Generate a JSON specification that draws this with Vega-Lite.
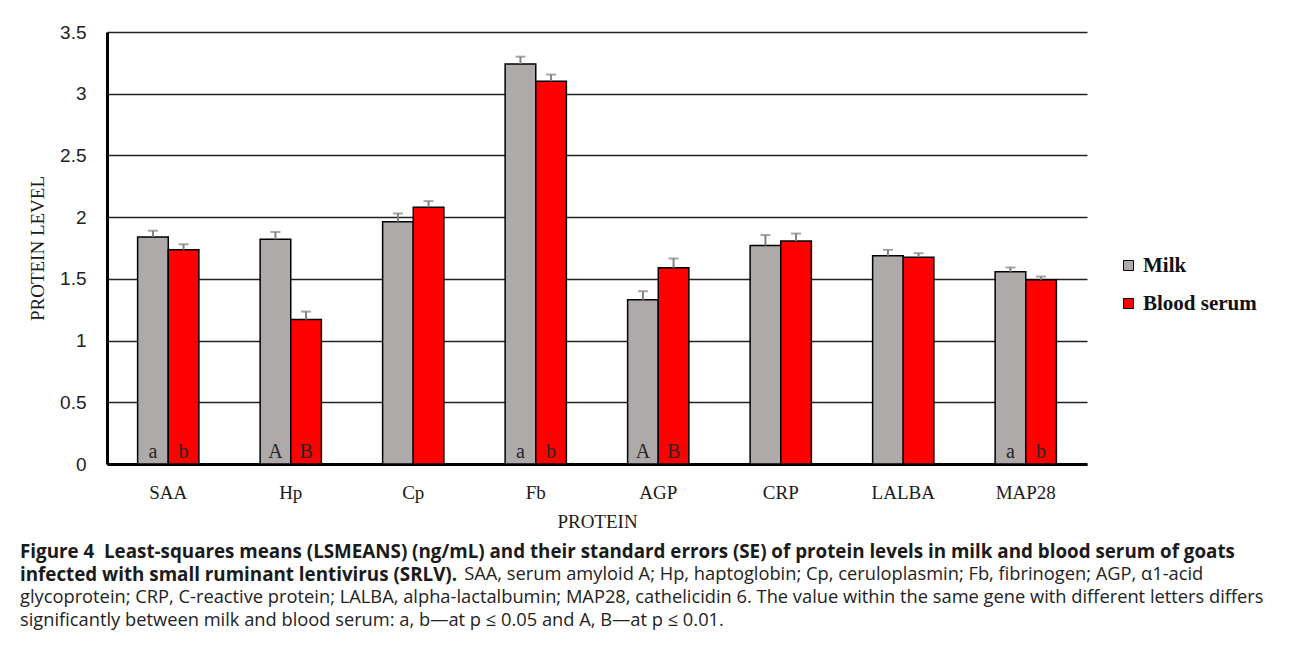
{
  "$schema": "https://vega.github.io/schema/vega-lite/v6.json",
  "autosize": {"type": "none"},
  "padding": {"left": 107, "top": 32, "right": 203, "bottom": 188},
  "width": 980,
  "height": 432,
  "background": "white",
  "title": {
    "text": ["Figure 4\u00a0 Least-squares means (LSMEANS) (ng/mL) and their standard errors (SE) of protein levels in milk and blood serum of goats", "infected with small ruminant lentivirus (SRLV)."],
    "subtitle": ["\u200b\u2003\u2003\u2003\u2003\u2003\u2003\u2003\u2003\u2003\u2003\u2003\u2003\u2003\u2003\u2003\u2003\u2003\u2003\u2003\u2003\u2003\u2003\u2003\u00a0\u00a0\u00a0\u00a0\u00a0SAA, serum amyloid A; Hp, haptoglobin; Cp, ceruloplasmin; Fb, fibrinogen; AGP, \u03b11-acid", "glycoprotein; CRP, C-reactive protein; LALBA, alpha-lactalbumin; MAP28, cathelicidin 6. The value within the same gene with different letters differs", "significantly between milk and blood serum: a, b\u2014at p \u2264 0.05 and A, B\u2014at p \u2264 0.01."],
    "orient": "bottom",
    "anchor": "start",
    "frame": "group",
    "dx": -87,
    "offset": 12,
    "font": "Open Sans",
    "fontSize": 18.8,
    "fontWeight": "bold",
    "lineHeight": 23,
    "color": "#1a1a1a",
    "subtitleFont": "Open Sans",
    "subtitleFontSize": 18.3,
    "subtitleFontWeight": "normal",
    "subtitleLineHeight": 23,
    "subtitleColor": "#222222",
    "subtitlePadding": -18.8
  },
  "data": {
    "values": [
      {"protein": "SAA", "group": "Milk", "value": 1.84, "upper": 1.89, "letter": "a"},
      {"protein": "SAA", "group": "Blood serum", "value": 1.735, "upper": 1.78, "letter": "b"},
      {"protein": "Hp", "group": "Milk", "value": 1.82, "upper": 1.88, "letter": "A"},
      {"protein": "Hp", "group": "Blood serum", "value": 1.17, "upper": 1.235, "letter": "B"},
      {"protein": "Cp", "group": "Milk", "value": 1.963, "upper": 2.03, "letter": ""},
      {"protein": "Cp", "group": "Blood serum", "value": 2.08, "upper": 2.13, "letter": ""},
      {"protein": "Fb", "group": "Milk", "value": 3.24, "upper": 3.3, "letter": "a"},
      {"protein": "Fb", "group": "Blood serum", "value": 3.1, "upper": 3.155, "letter": "b"},
      {"protein": "AGP", "group": "Milk", "value": 1.33, "upper": 1.4, "letter": "A"},
      {"protein": "AGP", "group": "Blood serum", "value": 1.59, "upper": 1.665, "letter": "B"},
      {"protein": "CRP", "group": "Milk", "value": 1.77, "upper": 1.855, "letter": ""},
      {"protein": "CRP", "group": "Blood serum", "value": 1.806, "upper": 1.867, "letter": ""},
      {"protein": "LALBA", "group": "Milk", "value": 1.687, "upper": 1.735, "letter": ""},
      {"protein": "LALBA", "group": "Blood serum", "value": 1.676, "upper": 1.708, "letter": ""},
      {"protein": "MAP28", "group": "Milk", "value": 1.557, "upper": 1.592, "letter": "a"},
      {"protein": "MAP28", "group": "Blood serum", "value": 1.492, "upper": 1.519, "letter": "b"}
    ]
  },
  "encoding": {
    "x": {
      "field": "protein",
      "type": "nominal",
      "sort": ["SAA", "Hp", "Cp", "Fb", "AGP", "CRP", "LALBA", "MAP28"],
      "scale": {"paddingInner": 0.5, "paddingOuter": 0.25},
      "title": "PROTEIN",
      "axis": {
        "labelAngle": 0,
        "domainColor": "#000000",
        "domainWidth": 3,
        "ticks": false,
        "tickSize": 0,
        "labelFont": "Liberation Serif",
        "labelFontSize": 19,
        "labelColor": "#1a1a1a",
        "labelPadding": 19,
        "titleFont": "Liberation Serif",
        "titleFontSize": 19,
        "titleFontWeight": "normal",
        "titleColor": "#1a1a1a",
        "titlePadding": 10
      }
    },
    "xOffset": {"field": "group", "type": "nominal", "sort": ["Milk", "Blood serum"]}
  },
  "layer": [
    {
      "mark": {"type": "bar", "stroke": "#000000", "strokeWidth": 1.5},
      "encoding": {
        "y": {
          "field": "value",
          "type": "quantitative",
          "scale": {"domain": [0, 3.5]},
          "title": "PROTEIN LEVEL",
          "axis": {
            "values": [0, 0.5, 1, 1.5, 2, 2.5, 3, 3.5],
            "format": "~g",
            "grid": true,
            "gridColor": "#222222",
            "gridWidth": 1.3,
            "domainColor": "#000000",
            "domainWidth": 3,
            "ticks": false,
            "tickSize": 0,
            "labelFont": "Liberation Sans",
            "labelFontSize": 19,
            "labelColor": "#222222",
            "labelPadding": 21,
            "titleFont": "Liberation Serif",
            "titleFontSize": 19,
            "titleFontWeight": "normal",
            "titleColor": "#1a1a1a",
            "titlePadding": 12
          }
        },
        "color": {
          "field": "group",
          "type": "nominal",
          "scale": {"domain": ["Milk", "Blood serum"], "range": ["#AEAAAA", "#FF0000"]},
          "legend": {
            "orient": "none",
            "legendX": 1011,
            "legendY": 223,
            "title": null,
            "padding": 0,
            "symbolType": "square",
            "symbolSize": 100,
            "symbolStrokeColor": "#000000",
            "symbolStrokeWidth": 1,
            "labelFont": "Liberation Serif",
            "labelFontSize": 21,
            "labelFontWeight": "bold",
            "labelColor": "#111111",
            "labelOffset": 4,
            "rowPadding": 16
          }
        }
      }
    },
    {
      "mark": {"type": "rule", "color": "#808080", "strokeWidth": 2},
      "encoding": {
        "y": {"field": "value", "type": "quantitative"},
        "y2": {"field": "upper"}
      }
    },
    {
      "mark": {"type": "tick", "color": "#808080", "thickness": 2, "size": 10, "orient": "horizontal"},
      "encoding": {
        "y": {"field": "upper", "type": "quantitative"}
      }
    },
    {
      "mark": {"type": "text", "font": "Liberation Serif", "fontSize": 20, "color": "#262626", "baseline": "alphabetic", "dy": -6},
      "encoding": {
        "y": {"datum": 0, "type": "quantitative"},
        "text": {"field": "letter"}
      }
    }
  ],
  "config": {
    "view": {"stroke": null}
  }
}
